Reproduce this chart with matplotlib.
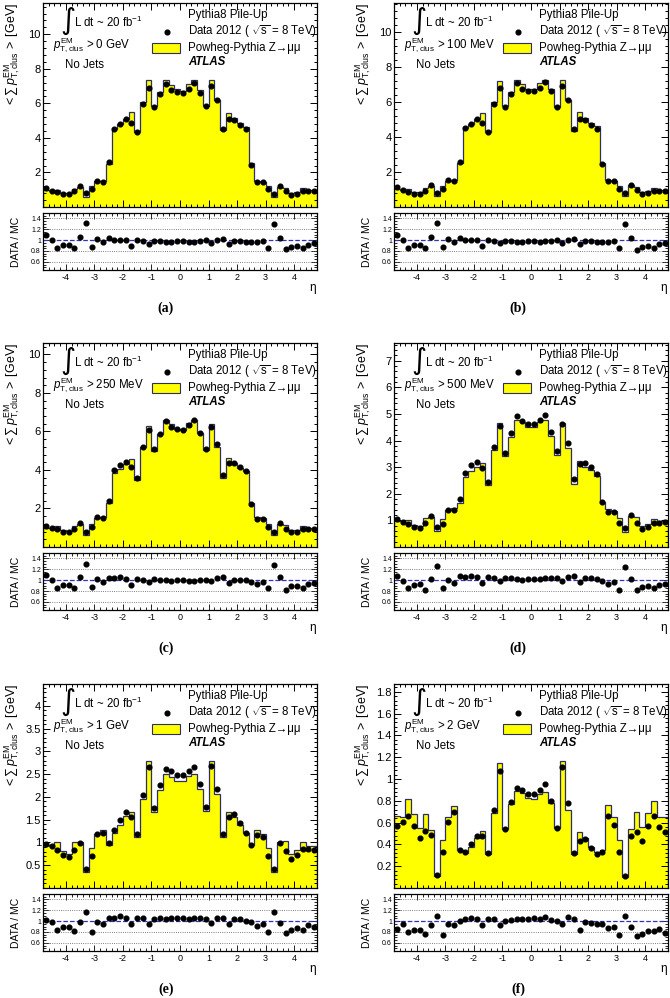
import numpy as np
import matplotlib
matplotlib.use("Agg")
import matplotlib.pyplot as plt
from matplotlib.patches import Rectangle
from matplotlib.ticker import AutoMinorLocator, FuncFormatter, FixedLocator

plt.rcParams["font.family"] = ["Liberation Sans", "DejaVu Sans"]
plt.rcParams["mathtext.fontset"] = "custom"
plt.rcParams["mathtext.rm"] = "Liberation Sans"
plt.rcParams["mathtext.it"] = "Liberation Sans:italic"
plt.rcParams["mathtext.bf"] = "Liberation Sans:bold"

# eta binning: 48 bins of 0.2 between -4.8 and 4.8
eta_edges = np.linspace(-4.8, 4.8, 49)
eta_centers = 0.5 * (eta_edges[:-1] + eta_edges[1:])

# (a) pT > 0 GeV
data_a = [1.08, 0.94, 0.86, 0.75, 0.75, 0.90, 1.21, 0.79, 1.04, 1.52, 1.46, 2.60,
          4.54, 4.79, 5.08, 4.89, 4.35, 5.95, 6.87, 5.80, 6.53, 7.14, 6.78, 6.68,
          6.59, 6.82, 7.16, 6.62, 5.82, 7.01, 6.18, 4.54, 5.08, 5.04, 4.74, 4.50,
          2.42, 1.42, 1.42, 1.02, 0.75, 1.21, 0.92, 0.71, 0.77, 0.92, 0.90, 0.92]
mc_a = [0.99, 0.94, 1.00, 0.82, 0.82, 1.06, 1.15, 0.60, 1.20, 1.49, 1.52, 2.50,
        4.54, 4.79, 5.08, 5.49, 4.35, 6.07, 7.36, 5.86, 6.66, 7.35, 7.06, 6.82,
        6.72, 7.10, 7.35, 6.75, 5.82, 7.38, 6.18, 4.45, 5.46, 5.14, 4.84, 4.64,
        2.52, 1.48, 1.45, 1.19, 0.58, 1.16, 1.10, 0.81, 0.86, 1.08, 0.98, 0.97]

# (b) pT > 100 MeV
data_b = [1.13, 1.00, 0.88, 0.77, 0.77, 0.94, 1.26, 0.80, 1.05, 1.53, 1.51, 2.59,
          4.50, 4.75, 5.03, 4.81, 4.27, 5.87, 6.80, 5.70, 6.45, 7.08, 6.74, 6.63,
          6.63, 6.80, 7.14, 6.61, 5.73, 6.89, 6.11, 4.45, 5.03, 5.00, 4.71, 4.48,
          2.44, 1.47, 1.47, 1.05, 0.80, 1.28, 0.96, 0.75, 0.82, 0.94, 0.92, 0.94]
mc_b = [1.04, 1.00, 1.02, 0.84, 0.84, 1.11, 1.20, 0.61, 1.21, 1.50, 1.57, 2.49,
        4.50, 4.75, 5.03, 5.40, 4.27, 5.99, 7.20, 5.76, 6.58, 7.29, 7.02, 6.77,
        6.77, 7.08, 7.29, 6.74, 5.73, 7.25, 6.11, 4.36, 5.41, 5.10, 4.81, 4.62,
        2.54, 1.53, 1.50, 1.22, 0.62, 1.23, 1.17, 0.85, 0.91, 1.11, 1.00, 0.99]

# (c) pT > 250 MeV
data_c = [1.11, 1.01, 0.92, 0.80, 0.78, 0.94, 1.23, 0.78, 1.02, 1.54, 1.49, 2.39,
          4.00, 4.24, 4.43, 4.14, 3.56, 5.17, 6.06, 5.08, 5.85, 6.54, 6.25, 6.11,
          6.08, 6.32, 6.57, 5.94, 5.08, 6.25, 5.37, 3.76, 4.36, 4.38, 4.16, 3.95,
          2.22, 1.43, 1.47, 1.02, 0.78, 1.25, 0.94, 0.77, 0.78, 0.94, 0.92, 0.94]
mc_c = [1.01, 1.01, 1.08, 0.87, 0.85, 1.11, 1.17, 0.60, 1.17, 1.50, 1.55, 2.28,
        3.85, 4.04, 4.30, 4.55, 3.46, 5.17, 6.30, 4.98, 5.85, 6.58, 6.38, 6.11,
        6.08, 6.45, 6.62, 5.94, 5.03, 6.38, 5.21, 3.58, 4.60, 4.34, 4.12, 3.95,
        2.31, 1.55, 1.52, 1.20, 0.61, 1.19, 1.15, 0.87, 0.87, 1.11, 1.00, 0.99]

# (d) pT > 500 MeV
data_d = [1.06, 0.95, 0.87, 0.76, 0.72, 0.91, 1.17, 0.74, 0.88, 1.40, 1.39, 1.80,
          2.78, 3.09, 3.19, 2.97, 2.45, 3.74, 4.55, 3.55, 4.28, 4.93, 4.73, 4.62,
          4.62, 4.77, 4.95, 4.33, 3.59, 4.62, 3.91, 2.55, 3.12, 3.14, 3.01, 2.75,
          1.68, 1.32, 1.32, 0.91, 0.71, 1.19, 0.91, 0.69, 0.77, 0.91, 0.91, 0.94]
mc_d = [0.98, 0.96, 1.02, 0.83, 0.78, 1.10, 1.14, 0.59, 1.04, 1.39, 1.46, 1.67,
        2.62, 2.86, 3.01, 3.16, 2.33, 3.63, 4.64, 3.41, 4.12, 4.79, 4.68, 4.49,
        4.49, 4.68, 4.76, 4.16, 3.45, 4.67, 3.72, 2.36, 3.22, 3.02, 2.89, 2.67,
        1.70, 1.43, 1.36, 1.10, 0.57, 1.16, 1.12, 0.79, 0.86, 1.07, 0.99, 1.01]

# (e) pT > 1 GeV
data_e = [0.96, 0.92, 0.84, 0.72, 0.67, 0.83, 0.99, 0.41, 0.70, 1.18, 1.21, 0.99,
          1.27, 1.50, 1.68, 1.57, 1.18, 2.05, 2.65, 1.75, 2.27, 2.62, 2.56, 2.48,
          2.48, 2.56, 2.65, 2.29, 1.78, 2.69, 2.18, 1.19, 1.57, 1.62, 1.43, 1.21,
          0.94, 1.16, 1.12, 0.70, 0.41, 0.99, 0.81, 0.63, 0.72, 0.85, 0.85, 0.83]
mc_e = [0.94, 0.93, 1.00, 0.81, 0.75, 1.02, 1.01, 0.35, 0.88, 1.19, 1.27, 0.94,
        1.21, 1.38, 1.58, 1.67, 1.12, 1.95, 2.79, 1.67, 2.16, 2.50, 2.44, 2.36,
        2.36, 2.46, 2.50, 2.18, 1.70, 2.80, 2.06, 1.12, 1.67, 1.56, 1.38, 1.21,
        0.95, 1.27, 1.18, 0.88, 0.35, 1.02, 1.03, 0.75, 0.83, 1.01, 0.92, 0.93]

# (f) pT > 2 GeV
data_f = [0.57, 0.61, 0.66, 0.57, 0.46, 0.52, 0.49, 0.12, 0.33, 0.61, 0.70, 0.35,
          0.33, 0.40, 0.48, 0.48, 0.32, 0.72, 1.07, 0.54, 0.79, 0.92, 0.90, 0.86,
          0.86, 0.90, 0.95, 0.80, 0.55, 1.11, 0.78, 0.32, 0.43, 0.45, 0.37, 0.31,
          0.33, 0.66, 0.58, 0.33, 0.11, 0.48, 0.51, 0.43, 0.57, 0.66, 0.56, 0.51]
mc_f = [0.66, 0.65, 0.82, 0.68, 0.55, 0.68, 0.53, 0.11, 0.44, 0.65, 0.75, 0.35,
        0.32, 0.38, 0.46, 0.52, 0.31, 0.69, 1.15, 0.54, 0.77, 0.89, 0.87, 0.83,
        0.82, 0.86, 0.88, 0.78, 0.55, 1.17, 0.72, 0.31, 0.51, 0.46, 0.38, 0.33,
        0.35, 0.76, 0.65, 0.44, 0.10, 0.54, 0.70, 0.56, 0.69, 0.80, 0.65, 0.65]

cut_labels = ["> 0 GeV", "> 100 MeV", "> 250 MeV", "> 500 MeV", "> 1 GeV", "> 2 GeV"]
panel_tags = ["(a)", "(b)", "(c)", "(d)", "(e)", "(f)"]
y_ticks = [
    [2, 4, 6, 8, 10],
    [2, 4, 6, 8, 10],
    [2, 4, 6, 8, 10],
    [1, 2, 3, 4, 5, 6, 7],
    [0.5, 1, 1.5, 2, 2.5, 3, 3.5, 4],
    [0.2, 0.4, 0.6, 0.8, 1, 1.2, 1.4, 1.6, 1.8],
]
ratio_ticks = [0.6, 0.8, 1, 1.2, 1.4]
panels = [(data_a, mc_a), (data_b, mc_b), (data_c, mc_c),
          (data_d, mc_d), (data_e, mc_e), (data_f, mc_f)]

W, H = 670, 998
fig = plt.figure(figsize=(W / 100, H / 100), dpi=100)

col_x = [43, 394]
row_top = [3, 343, 684]
main_h, ratio_gap, ratio_h, ax_w = 204, 6, 57, 274
edge_col = "#2e2e66"
txt_size = 8.3


def rect(x0, top, w, h):
    return [x0 / W, 1 - (top + h) / H, w / W, h / H]


fmt = FuncFormatter(lambda v, p: f"{v:g}")

for k, (data, mc) in enumerate(panels):
    r, c = divmod(k, 2)
    data = np.array(data)
    mc = np.array(mc)
    x0, top = col_x[c], row_top[r]

    ax = fig.add_axes(rect(x0, top, ax_w, main_h))
    ax.stairs(mc, eta_edges, fill=True, color="#ffff00", baseline=0)
    ax.stairs(mc, eta_edges, color=edge_col, linewidth=0.9, baseline=0)
    ax.plot(eta_centers, data, "o", color="black", ms=3.4)
    ax.set_xlim(-4.8, 4.8)
    ax.set_ylim(0, 1.6 * mc.max())
    ax.yaxis.set_major_locator(FixedLocator(y_ticks[k]))
    ax.yaxis.set_major_formatter(fmt)
    ax.yaxis.set_minor_locator(AutoMinorLocator(5))
    ax.xaxis.set_major_locator(FixedLocator([-4, -3, -2, -1, 0, 1, 2, 3, 4]))
    ax.xaxis.set_minor_locator(AutoMinorLocator(5))
    ax.tick_params(which="both", direction="in", top=True, right=True,
                   labelbottom=False, labelsize=8, pad=1.5, width=0.7)
    ax.tick_params(which="major", length=5)
    ax.tick_params(which="minor", length=2.5)
    for sp in ax.spines.values():
        sp.set_linewidth(0.9)

    ax.text(-0.112, 1.0,
            r"$<\sum\, p_{\mathrm{T,clus}}^{\mathrm{EM}}\, >$ [GeV]",
            transform=ax.transAxes, rotation=90, ha="center", va="top", fontsize=9)

    tk = dict(transform=ax.transAxes, fontsize=txt_size, va="center")
    ax.text(0.091, 0.91, "\u222b", transform=ax.transAxes, fontsize=21,
            ha="center", va="center", family="DejaVu Sans")
    ax.text(0.112, 0.905, r"L dt ~ 20 fb$^{-1}$", ha="left", **tk)
    ax.text(0.036, 0.794, r"$p_{\mathrm{T,clus}}^{\mathrm{EM}}$ " + cut_labels[k],
            ha="left", **tk)
    ax.text(0.080, 0.696, "No Jets", ha="left", **tk)
    ax.text(0.529, 0.941, "Pythia8 Pile-Up", ha="left", **tk)
    ax.plot([0.453], [0.858], "o", color="black", ms=3.4, transform=ax.transAxes,
            clip_on=False)
    ax.text(0.529, 0.858, r"Data 2012 ( $\sqrt{\mathrm{s}}$ = 8 TeV)", ha="left", **tk)
    ax.add_patch(Rectangle((0.398, 0.755), 0.102, 0.049, transform=ax.transAxes,
                           facecolor="#ffff00", edgecolor=edge_col, linewidth=0.8))
    ax.text(0.529, 0.779, "Powheg-Pythia Z\u2192\u03bc\u03bc", ha="left", **tk)
    ax.text(0.529, 0.711, "ATLAS", ha="left", fontweight="bold", style="italic", **tk)

    # ratio panel
    rx = fig.add_axes(rect(x0, top + main_h + ratio_gap, ax_w, ratio_h))
    for g in [0.6, 0.8, 1.2, 1.4]:
        rx.axhline(g, color="#555555", linestyle=":", linewidth=0.6)
    rx.axhline(1.0, color="#3030c0", linestyle="--", linewidth=0.9)
    rx.plot(eta_centers, data / mc, "o", color="black", ms=3.4)
    rx.set_xlim(-4.8, 4.8)
    rx.set_ylim(0.45, 1.5)
    rx.yaxis.set_major_locator(FixedLocator(ratio_ticks))
    rx.yaxis.set_major_formatter(fmt)
    rx.yaxis.set_minor_locator(AutoMinorLocator(4))
    rx.xaxis.set_major_locator(FixedLocator([-4, -3, -2, -1, 0, 1, 2, 3, 4]))
    rx.xaxis.set_major_formatter(fmt)
    rx.xaxis.set_minor_locator(AutoMinorLocator(5))
    rx.tick_params(which="both", direction="in", top=True, right=True, width=0.6)
    rx.tick_params(which="major", length=4)
    rx.tick_params(which="minor", length=2)
    rx.tick_params(axis="y", labelsize=5, pad=1.5)
    rx.tick_params(axis="x", labelsize=6.5, pad=2)
    for sp in rx.spines.values():
        sp.set_linewidth(0.9)
    rx.text(-0.1, 0.5, "DATA / MC", transform=rx.transAxes, rotation=90,
            ha="center", va="center", fontsize=7.5)
    fig.text((x0 + 270) / W, 1 - (top + 285) / H, "\u03b7", fontsize=8.5,
             ha="center", va="center")
    fig.text((166 + 352 * c) / W, 1 - (top + 305) / H, panel_tags[k],
             family="Liberation Serif", fontweight="bold", fontsize=10,
             ha="center", va="center")

fig.savefig("out.png", dpi=100)
